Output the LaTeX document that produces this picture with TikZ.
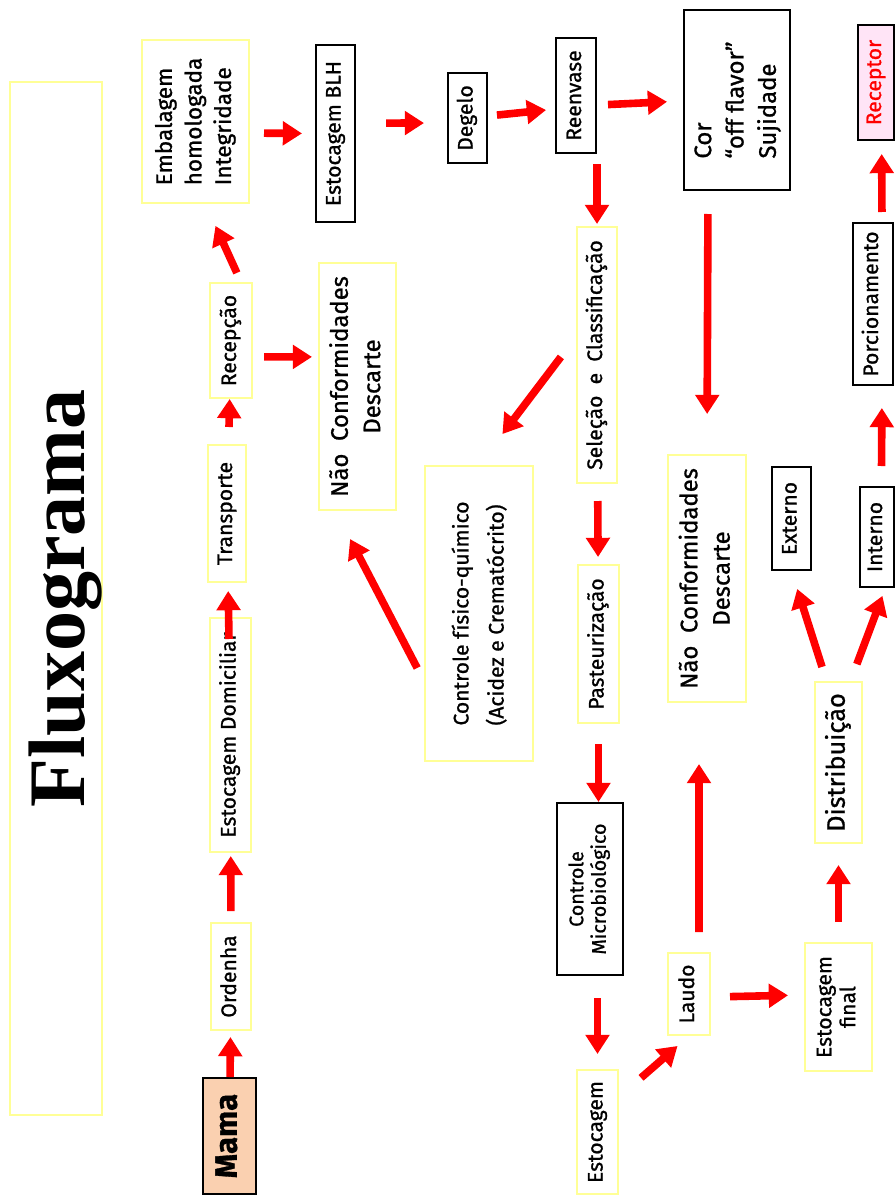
\documentclass[tikz,border=0pt]{standalone}
\usepackage{fontspec}
\setmainfont{Fira Sans}[FakeBold=1]
\newfontfamily\titlefont{Liberation Serif}
\usetikzlibrary{arrows.meta}
\definecolor{boxyellow}{RGB}{255,255,150}
\definecolor{mamapeach}{RGB}{250,208,176}
\definecolor{receptpink}{RGB}{255,228,246}
\newcommand{\vlab}[2][c]{\rotatebox{90}{\begin{tabular}{@{}#1@{}}#2\end{tabular}}}

\begin{document}
\begin{tikzpicture}[x=0.25mm, y=-0.25mm,
  every node/.style={font=\fontsize{15}{18}\selectfont},
  yel/.style={draw=boxyellow, line width=0.5mm, fill=white, inner sep=0pt},
  blk/.style={draw=black, line width=0.5mm, fill=white, inner sep=0pt},
  arr/.style={red, line width=1.9mm, -{Triangle[width=5.8mm, length=4.8mm]}}]
\path[use as bounding box, fill=white] (0,0) rectangle (895,1195);

\node[yel, minimum width=23mm, minimum height=258.25mm] (title) at (56,598.5) {\titlefont\bfseries\fontsize{57}{60}\selectfont\rotatebox{90}{\raisebox{-2.5mm}[\height][\depth]{Fluxograma}}};

\node[blk, fill=mamapeach, minimum width=13.25mm, minimum height=29mm, font=\fontsize{22}{26}\selectfont\bfseries] (mama) at (229.5,1136) {\vlab{Mama}};
\node[yel, minimum width=10mm, minimum height=26.75mm] (ordenha) at (231,976.5) {\vlab{Ordenha}};
\node[yel, minimum width=10.25mm, minimum height=58.5mm] (estdom) at (230.5,735) {\vlab{Estocagem Domiciliar}};
\node[yel, minimum width=9.5mm, minimum height=34.25mm] (transp) at (227,513.5) {\vlab{Transporte}};
\node[yel, minimum width=10.5mm, minimum height=28.75mm] (recep) at (231,340.5) {\vlab{Recepção}};
\node[yel, minimum width=26.75mm, minimum height=40.75mm, font=\fontsize{16}{21}\selectfont] (embal) at (195.5,121.5) {\vlab[l]{Embalagem\\homologada\\Integridade}};
\node[blk, minimum width=9.75mm, minimum height=44.25mm] (blh) at (335.5,133.5) {\vlab{Estocagem BLH}};
\node[blk, minimum width=9.75mm, minimum height=22.5mm] (degelo) at (467.5,118) {\vlab{Degelo}};
\node[blk, minimum width=10mm, minimum height=28.75mm] (reenv) at (576,95.5) {\vlab{Reenvase}};
\node[blk, minimum width=26.5mm, minimum height=45mm, font=\fontsize{17}{23}\selectfont] (cor) at (737,100) {\vlab[l]{Cor\\“off flavor”\\Sujidade}};
\node[blk, fill=receptpink, text=red, minimum width=9mm, minimum height=28.75mm] (receptor) at (876,82.5) {\vlab{Receptor}};
\node[blk, minimum width=10mm, minimum height=40.5mm] (porcion) at (873,304) {\vlab{Porcionamento}};
\node[blk, minimum width=8.5mm, minimum height=25mm] (interno) at (877,537) {\vlab{Interno}};
\node[blk, minimum width=9.75mm, minimum height=25.75mm] (externo) at (791.5,518.5) {\vlab{Externo}};
\node[yel, minimum width=11.75mm, minimum height=40.25mm, font=\fontsize{18}{22}\selectfont] (distrib) at (838.5,762.5) {\vlab{Distribuição}};
\node[yel, minimum width=19.5mm, minimum height=61.75mm, font=\fontsize{17}{23}\selectfont] (ncR) at (707,578.5) {\vlab{Não~~Conformidades\\Descarte}};
\node[yel, minimum width=10mm, minimum height=64mm] (selec) at (597,355) {\vlab{Seleção~~e~~Classificação}};
\node[yel, minimum width=10.25mm, minimum height=39.5mm] (paste) at (598.5,644) {\vlab{Pasteurização}};
\node[yel, minimum width=19.25mm, minimum height=61.75mm, font=\fontsize{17}{23}\selectfont] (ncL) at (357.5,386.5) {\vlab{Não~~Conformidades\\Descarte}};
\node[yel, minimum width=27mm, minimum height=73.75mm, font=\fontsize{15}{25}\selectfont] (cfq) at (479,613.5) {\vlab[l]{Controle físico-químico\\(Acidez e Crematócrito)}};
\node[blk, minimum width=16.5mm, minimum height=43mm, font=\fontsize{14}{16}\selectfont] (cmicro) at (590,889) {\vlab{Controle\\Microbiológico}};
\node[yel, minimum width=10.25mm, minimum height=31mm] (estoc) at (597.5,1132) {\vlab{Estocagem}};
\node[yel, minimum width=10.5mm, minimum height=20.5mm] (laudo) at (689,994) {\vlab{Laudo}};
\node[yel, minimum width=16.75mm, minimum height=32mm, font=\fontsize{15}{17}\selectfont] (estfin) at (838.5,1007) {\vlab{Estocagem\\final}};

\draw[arr, shorten >=1.5mm] (mama) -- (ordenha);
\draw[arr, shorten <=2.75mm, shorten >=0.75mm] (ordenha) -- (estdom);
\draw[arr, shorten <=-5.5mm, shorten >=2mm] (estdom) -- (transp);
\draw[arr, shorten <=4.25mm] (transp) -- (recep);
\draw[arr, shorten <=2.5mm, shorten >=6mm] ([xshift=2.5mm]recep.north) -- ([xshift=2.5mm]embal.south);
\draw[arr, shorten <=2.75mm, shorten >=1.5mm] ([yshift=-4.1mm]recep.east) -- ([yshift=7.4mm]ncL.west);
\draw[arr, shorten <=3.5mm, shorten >=3.25mm] ([yshift=-2.9mm]embal.east) -- (blh.west);
\draw[arr, shorten <=7.5mm, shorten >=5.75mm] ([yshift=2.6mm]blh.east) -- ([yshift=-1.25mm]degelo.west);
\draw[arr, shorten <=2.25mm, shorten >=2.25mm] ([yshift=0.5mm]degelo.east) -- ([yshift=-3.4mm]reenv.west);
\draw[arr, shorten <=2.75mm, shorten >=4mm] ([yshift=-2.4mm]reenv.east) -- ([yshift=-0.25mm]cor.west);
\draw[arr, shorten <=2.5mm, shorten >=0.5mm] ([xshift=5.25mm]reenv.south) -- (selec.north);
\draw[arr, shorten <=5.75mm, shorten >=10mm] ([xshift=-7.25mm]cor.south) -- (ncR.north);
\draw[arr, shorten <=6.25mm, shorten >=9.7mm] ([yshift=4.5mm]selec.west) -- (cfq.north);
\draw[arr, shorten <=4.25mm, shorten >=1.75mm] (selec) -- (paste);
\draw[arr, shorten <=3.7mm, shorten >=7.9mm] ([yshift=-16.9mm]cfq.west) -- ([xshift=-5.5mm]ncL.south);
\draw[arr, shorten <=5mm] (paste.south) -- (paste.south |- cmicro.north);
\draw[arr, shorten <=5.5mm, shorten >=3.75mm] (estoc.north |- cmicro.south) -- (estoc.north);
\draw[arr, shorten <=7.3mm, shorten >=3.8mm] ([yshift=8.75mm]estoc.east) -- (laudo.south);
\draw[arr, shorten <=5mm, shorten >=15.25mm] ([xshift=2.5mm]laudo.north) -- ([xshift=-2mm]ncR.south);
\draw[arr, shorten <=4.75mm, shorten >=4mm] ([yshift=-0.75mm]laudo.east) -- ([yshift=3mm]estfin.west);
\draw[arr, shorten <=5mm, shorten >=5.25mm] (estfin) -- (distrib);
\draw[arr, shorten <=3.7mm, shorten >=4.7mm] ([xshift=-3mm]distrib.north) -- (externo.south);
\draw[arr, shorten <=4.5mm, shorten >=2.1mm] ([xshift=3mm]distrib.north) -- ([xshift=2.1mm]interno.south);
\draw[arr, shorten <=5mm, shorten >=5.5mm] ([xshift=1.1mm]interno.north) -- ([xshift=2.25mm]porcion.south);
\draw[arr, shorten <=2.5mm, shorten >=3.25mm] ([xshift=2.25mm]porcion.north) -- ([xshift=1.4mm]receptor.south);
\end{tikzpicture}
\end{document}
